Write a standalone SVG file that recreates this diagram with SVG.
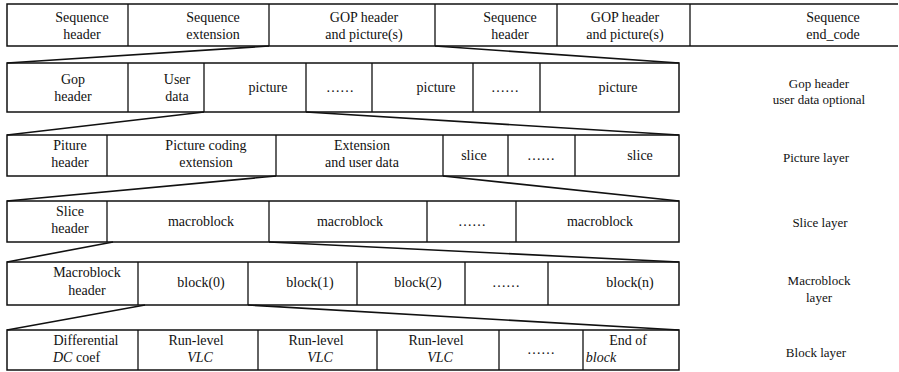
<svg xmlns="http://www.w3.org/2000/svg" width="899" height="372" viewBox="0 0 899 372">
<style>
.b{fill:none;stroke:#111;stroke-width:1.5}
.d{stroke:#111;stroke-width:1.3}
.c line{stroke:#111;stroke-width:1.6}
text{font-family:"Liberation Serif","Times New Roman",serif;font-size:14px;fill:#111;text-anchor:middle}
.l{text-anchor:start}
.i{font-style:italic}
#labels text{font-size:13px}
</style>
<rect width="899" height="372" fill="#fff"/>
<g id="row1">
<path class="b" d="M898 4H7V46H898"/>
<path class="d" d="M128 4V46M269 4V46M435 4V46M557 4V46M690 4V46"/>
<text x="82" y="22">Sequence</text><text x="82" y="39">header</text>
<text x="213" y="22">Sequence</text><text x="213" y="39">extension</text>
<text x="364" y="22">GOP header</text><text x="364" y="39">and picture(s)</text>
<text x="510" y="22">Sequence</text><text x="510" y="39">header</text>
<text x="625" y="22">GOP header</text><text x="625" y="39">and picture(s)</text>
<text x="833" y="22">Sequence</text><text x="833" y="39">end_code</text>
</g>
<g id="row2">
<rect class="b" x="7" y="63" width="672" height="49"/>
<path class="d" d="M128 63V112M204 63V112M306 63V112M372 63V112M473 63V112M540 63V112"/>
<text x="73" y="84">Gop</text><text x="73" y="101">header</text>
<text x="177" y="84">User</text><text x="177" y="101">data</text>
<text x="268" y="92">picture</text>
<text x="340" y="92">……</text>
<text x="436" y="92">picture</text>
<text x="505" y="92">……</text>
<text x="618" y="92">picture</text>
</g>
<g id="row3">
<rect class="b" x="7" y="135" width="672" height="41"/>
<path class="d" d="M107 135V176M276 135V176M443 135V176M508 135V176M575 135V176"/>
<text x="70" y="150">Piture</text><text x="70" y="167">header</text>
<text x="206" y="150">Picture coding</text><text x="206" y="167">extension</text>
<text x="362" y="150">Extension</text><text x="362" y="167">and user data</text>
<text x="474" y="160">slice</text>
<text x="541" y="160">……</text>
<text x="640" y="160">slice</text>
</g>
<g id="row4">
<rect class="b" x="7" y="201" width="672" height="41"/>
<path class="d" d="M107 201V242M269 201V242M427 201V242M516 201V242"/>
<text x="70" y="216">Slice</text><text x="70" y="233">header</text>
<text x="201" y="226">macroblock</text>
<text x="350" y="226">macroblock</text>
<text x="472" y="226">……</text>
<text x="600" y="226">macroblock</text>
</g>
<g id="row5">
<rect class="b" x="7" y="262" width="672" height="43"/>
<path class="d" d="M138 262V305M248 262V305M357 262V305M465 262V305M548 262V305"/>
<text x="87" y="277">Macroblock</text><text x="87" y="295">header</text>
<text x="201" y="287">block(0)</text>
<text x="310" y="287">block(1)</text>
<text x="418" y="287">block(2)</text>
<text x="506" y="287">……</text>
<text x="630" y="287">block(n)</text>
</g>
<g id="row6">
<rect class="b" x="7" y="330" width="672" height="40"/>
<path class="d" d="M138 330V370M258 330V370M377 330V370M499 330V370M583 330V370"/>
<text x="86" y="345">Differential</text><text class="l" x="53" y="362"><tspan class="i">DC</tspan> coef</text>
<text x="196" y="345">Run-level</text><text class="i" x="200" y="362">VLC</text>
<text x="316" y="345">Run-level</text><text class="i" x="320" y="362">VLC</text>
<text x="436" y="345">Run-level</text><text class="i" x="440" y="362">VLC</text>
<text x="541" y="354">……</text>
<text x="628" y="345">End of</text><text class="i" x="601" y="362">block</text>
</g>
<g id="labels">
<text x="819" y="88">Gop header</text><text x="819" y="104">user data optional</text>
<text x="816" y="162">Picture layer</text>
<text x="820" y="227">Slice layer</text>
<text x="819" y="285">Macroblock</text><text x="819" y="302">layer</text>
<text x="816" y="357">Block layer</text>
</g>
<g id="connectors" class="c">
<line x1="7" y1="63" x2="269" y2="46"/><line x1="435" y1="46" x2="679" y2="63"/>
<line x1="7" y1="135" x2="204" y2="112"/><line x1="306" y1="112" x2="679" y2="135"/>
<line x1="7" y1="201" x2="276" y2="176"/><line x1="443" y1="176" x2="679" y2="201"/>
<line x1="7" y1="262" x2="113" y2="242"/><line x1="269" y1="242" x2="679" y2="262"/>
<line x1="7" y1="330" x2="145" y2="305"/><line x1="248" y1="305" x2="679" y2="330"/>
</g>
</svg>
